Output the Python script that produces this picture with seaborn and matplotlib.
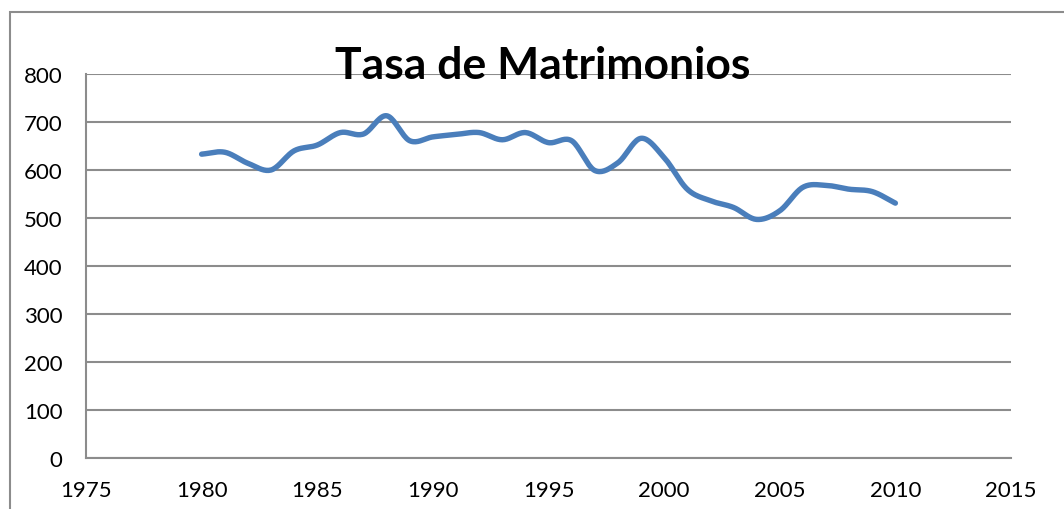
import numpy as np
import pandas as pd
import matplotlib
matplotlib.use("Agg")
import matplotlib.pyplot as plt
from matplotlib.patches import Rectangle
import seaborn as sns

years = [1980, 1981, 1982, 1983, 1984, 1985, 1986, 1987, 1988, 1989, 1990,
         1991, 1992, 1993, 1994, 1995, 1996, 1997, 1998, 1999, 2000,
         2001, 2002, 2003, 2004, 2005, 2006, 2007, 2008, 2009, 2010]
tasa = [633, 637, 614, 600, 640, 652, 678, 675, 713, 661, 669,
        674, 678, 663, 678, 657, 661, 599, 615, 666, 626,
        560, 536, 522, 497, 515, 564, 568, 560, 555, 531]
title = "Tasa de Matrimonios"
xticks = [1975, 1980, 1985, 1990, 1995, 2000, 2005, 2010, 2015]
yticks = [0, 100, 200, 300, 400, 500, 600, 700, 800]


def smooth(x, y, n=20):
    # Catmull-Rom rendering of a smoothed line (like a spreadsheet "smoothed line")
    x = np.asarray(x, float)
    y = np.asarray(y, float)
    px = np.concatenate([[2 * x[0] - x[1]], x, [2 * x[-1] - x[-2]]])
    py = np.concatenate([[2 * y[0] - y[1]], y, [2 * y[-1] - y[-2]]])
    xs, ys = [], []
    t = np.linspace(0, 1, n, endpoint=False)
    for i in range(1, len(px) - 2):
        for arr, out in ((px, xs), (py, ys)):
            p0, p1, p2, p3 = arr[i - 1], arr[i], arr[i + 1], arr[i + 2]
            out.extend(0.5 * ((2 * p1) + (-p0 + p2) * t +
                              (2 * p0 - 5 * p1 + 4 * p2 - p3) * t ** 2 +
                              (-p0 + 3 * p1 - 3 * p2 + p3) * t ** 3))
    xs.append(x[-1])
    ys.append(y[-1])
    return np.array(xs), np.array(ys)


sns.set_theme(style="white")
plt.rcParams["font.family"] = ["Lato", "DejaVu Sans"]

W, H = 1064, 510
fig = plt.figure(figsize=(W / 100, H / 100), dpi=100)
ax = fig.add_axes([86 / W, 51 / H, (1011 - 86) / W, (459 - 75) / H])

# outer chart border
fig.patches.append(Rectangle((10 / W, -0.1), 1.2, (H - 13) / H + 0.1,
                             transform=fig.transFigure, fill=False,
                             edgecolor="#8c8c8c", linewidth=1.5))

sx, sy = smooth(years, tasa)
df = pd.DataFrame({"year": sx, "tasa": sy})
sns.lineplot(data=df, x="year", y="tasa", ax=ax, color="#4a7ebb",
             linewidth=3.9, sort=False, estimator=None,
             solid_capstyle="round")

ax.set_xlim(1975, 2015)
ax.set_ylim(0, 800)
ax.set_xticks(xticks)
ax.set_yticks(yticks)
ax.set_xlabel("")
ax.set_ylabel("")
ax.yaxis.grid(True, color="#8c8c8c", linewidth=1.5)
ax.xaxis.grid(False)
ax.set_axisbelow(True)
for s in ["top", "right"]:
    ax.spines[s].set_visible(False)
for s in ["left", "bottom"]:
    ax.spines[s].set_color("#8c8c8c")
    ax.spines[s].set_linewidth(1.5)
ax.tick_params(axis="both", which="major", direction="out", color="#8c8c8c",
               width=1.5, length=5.8, labelsize=16, labelcolor="black")
ax.tick_params(axis="x", pad=10)
ax.tick_params(axis="y", pad=11)

fig.text(543 / W, 1 - 66 / H, title, ha="center", va="center",
         fontsize=32, fontweight="bold", color="black")

fig.savefig("out.png", dpi=100)
